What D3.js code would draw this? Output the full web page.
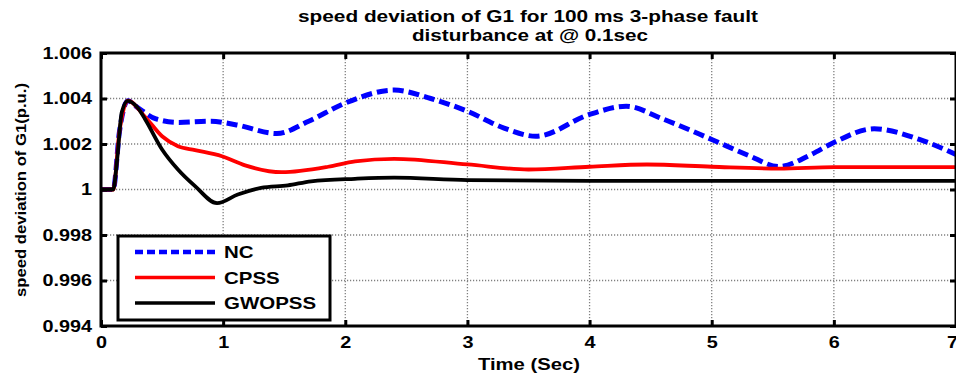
<!DOCTYPE html>
<html>
<head>
<meta charset="utf-8">
<script src="https://cdn.jsdelivr.net/npm/d3@7"></script>
<style>
  body { margin: 0; background: #fff; }
  text { font-family: "Liberation Sans", Arial, sans-serif; font-weight: bold; fill: #000; }
</style>
</head>
<body>
<svg id="chart" width="956" height="376"></svg>
<script>
// time (s) / value (p.u.) pairs
const ncTime  = [0, 0.1, 0.15, 0.22, 0.3, 0.45, 0.63, 0.9, 1.1, 1.44, 1.7, 2.0, 2.4, 2.7, 3.0, 3.3, 3.56, 4.0, 4.3, 4.6, 5.0, 5.3, 5.55, 5.8, 6.0, 6.33, 6.7, 7.0];
const ncValue = [1, 1, 1.0025, 1.0039, 1.0036, 1.0031, 1.00295, 1.0030, 1.00285, 1.00246, 1.0030, 1.0038, 1.00437, 1.0040, 1.00344, 1.0027, 1.00234, 1.0033, 1.00366, 1.0031, 1.0022, 1.0015, 1.00101, 1.0015, 1.00207, 1.00267, 1.0022, 1.00154];

const cpssTime  = [0, 0.1, 0.15, 0.22, 0.36, 0.5, 0.63, 0.77, 0.99, 1.18, 1.48, 1.86, 2.08, 2.4, 3.0, 3.5, 4.0, 4.47, 5.0, 5.55, 6.0, 7.0];
const cpssValue = [1, 1, 1.0025, 1.0039, 1.0032, 1.00234, 1.0019, 1.00173, 1.00146, 1.00106, 1.00076, 1.001, 1.00124, 1.00135, 1.0011, 1.00088, 1.001, 1.0011, 1.001, 1.00092, 1.00098, 1.00098];

const gwoTime  = [0, 0.1, 0.13, 0.17, 0.22, 0.3, 0.36, 0.5, 0.63, 0.77, 0.95, 1.12, 1.31, 1.53, 1.72, 2.08, 2.4, 3.0, 4.0, 7.0];
const gwoValue = [1, 1, 1.0012, 1.0034, 1.0039, 1.0036, 1.0031, 1.00176, 1.00088, 1.00015, 0.9994, 0.99978, 1.00007, 1.00018, 1.00036, 1.00047, 1.00052, 1.00041, 1.00038, 1.00038];

const xTicks = [0, 1, 2, 3, 4, 5, 6, 7];
const yTicks = [0.994, 0.996, 0.998, 1, 1.002, 1.004, 1.006];
const yTickLabels = ["0.994", "0.996", "0.998", "1", "1.002", "1.004", "1.006"];

const seriesNames = ["NC", "CPSS", "GWOPSS"];

const svg = d3.select("#chart");
const M = { left: 101, right: 956, top: 53, bottom: 326 };

const x = d3.scaleLinear().domain([0, 7]).range([M.left, M.right]);
const y = d3.scaleLinear().domain([0.994, 1.006]).range([M.bottom, M.top]);

// the original figure is stretched sideways, so widen the text to match
function stretch(sel, k) {
  sel.each(function () {
    const w = this.getComputedTextLength();
    d3.select(this).attr("textLength", w * k).attr("lengthAdjust", "spacingAndGlyphs");
  });
}
function fitWidth(sel, w) {
  sel.attr("textLength", w).attr("lengthAdjust", "spacingAndGlyphs");
}

// grid
const grid = svg.append("g").attr("stroke", "#808080").attr("stroke-width", 1.3).attr("stroke-dasharray", "1.2,1.8");
grid.selectAll(".gx").data(xTicks.slice(1, -1)).join("line")
  .attr("x1", d => x(d)).attr("x2", d => x(d)).attr("y1", M.top).attr("y2", M.bottom);
grid.selectAll(".gy").data(yTicks.slice(1, -1)).join("line")
  .attr("x1", M.left).attr("x2", M.right).attr("y1", d => y(d)).attr("y2", d => y(d));

// series lines
const line = d3.line().x(d => x(d[0])).y(d => y(d[1])).curve(d3.curveMonotoneX);
const series = [
  { pts: d3.zip(ncTime, ncValue), color: "#0000ff", width: 5, dash: "11,5" },
  { pts: d3.zip(cpssTime, cpssValue), color: "#ff0000", width: 3.8, dash: null },
  { pts: d3.zip(gwoTime, gwoValue), color: "#000000", width: 3.8, dash: null }
];
svg.append("g").selectAll("path").data(series).join("path")
  .attr("d", d => line(d.pts))
  .attr("fill", "none")
  .attr("stroke", d => d.color)
  .attr("stroke-width", d => d.width)
  .attr("stroke-dasharray", d => d.dash);

// axes (ticks point inward)
const xAxis = svg.append("g").attr("transform", `translate(0,${M.bottom})`)
  .call(d3.axisBottom(x).tickValues(xTicks).tickSize(-6).tickPadding(10).tickFormat(d3.format("d")));
svg.append("g").attr("transform", `translate(0,${M.top})`)
  .call(d3.axisTop(x).tickValues(xTicks).tickSize(-6).tickFormat(""));
const yAxis = svg.append("g").attr("transform", `translate(${M.left},0)`)
  .call(d3.axisLeft(y).tickValues(yTicks).tickSize(-6).tickPadding(9).tickFormat((d, i) => yTickLabels[i]));
svg.append("g").attr("transform", `translate(${M.right},0)`)
  .call(d3.axisRight(y).tickValues(yTicks).tickSize(-6).tickFormat(""));

svg.selectAll(".domain").remove();
svg.selectAll(".tick line").attr("stroke", "#000").attr("stroke-width", 3);
svg.selectAll(".tick text").attr("font-size", 16.5).attr("font-family", null).attr("fill", "#000");
stretch(xAxis.selectAll(".tick text"), 1.2);
stretch(yAxis.selectAll(".tick text"), 1.2);
// last x label sits on the page edge, pull it in a touch
xAxis.selectAll(".tick text").filter(d => d === 7).attr("dx", -4);

// frame
svg.append("rect")
  .attr("x", M.left).attr("y", M.top)
  .attr("width", M.right - M.left).attr("height", M.bottom - M.top)
  .attr("fill", "none").attr("stroke", "#000").attr("stroke-width", 3);

// title
const title = svg.append("g").attr("text-anchor", "middle").attr("font-size", 16);
fitWidth(title.append("text").attr("x", 528).attr("y", 22).text("speed deviation of G1 for 100 ms 3-phase fault"), 460);
fitWidth(title.append("text").attr("x", 530).attr("y", 41).text("disturbance at @ 0.1sec"), 236);

// axis labels
fitWidth(svg.append("text").attr("x", 529).attr("y", 370).attr("text-anchor", "middle")
  .attr("font-size", 17).text("Time (Sec)"), 102);
fitWidth(svg.append("text").attr("transform", "translate(26,190) rotate(-90)")
  .attr("text-anchor", "middle").attr("font-size", 15).text("speed deviation of G1(p.u.)"), 214);

// legend
const legend = svg.append("g");
legend.append("rect").attr("x", 118).attr("y", 236).attr("width", 212).attr("height", 84)
  .attr("fill", "#fff").attr("stroke", "#000").attr("stroke-width", 3);
const legendY = d3.scalePoint().domain(seriesNames).range([252, 303]);
const items = legend.selectAll(".item").data(series.map((s, i) => ({ ...s, name: seriesNames[i] })))
  .join("g").attr("transform", d => `translate(0,${legendY(d.name)})`);
items.append("line").attr("x1", 135).attr("x2", 215).attr("y1", 0).attr("y2", 0)
  .attr("stroke", d => d.color).attr("stroke-width", d => d.width - 0.5)
  .attr("stroke-dasharray", d => d.dash ? "8,4" : null);
const lt = items.append("text").attr("x", 224).attr("y", 6).attr("font-size", 16.5).text(d => d.name);
stretch(lt, 1.24);
</script>
</body>
</html>
